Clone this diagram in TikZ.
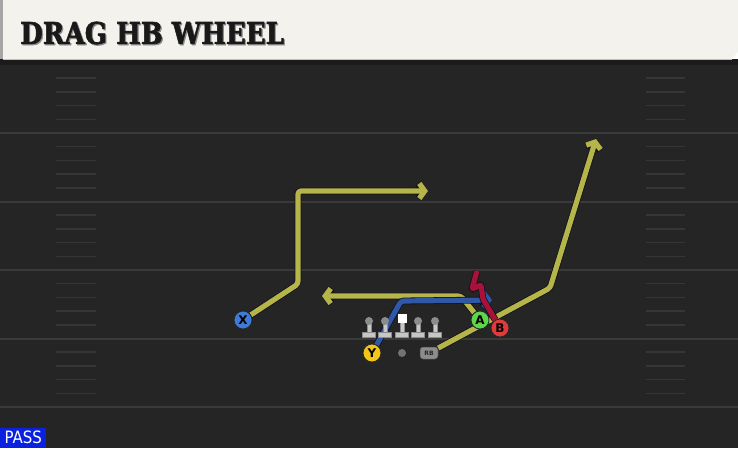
\documentclass[tikz,border=0pt]{standalone}
\usepackage{fontspec}
\setmainfont{DejaVu Sans}
\newfontfamily\titlefont{DejaVu Serif}[BoldFeatures={FakeBold=2}]
\usepackage{xcolor}
\usetikzlibrary{arrows.meta, positioning}

\definecolor{fieldgray}{HTML}{252525}
\definecolor{topband}{HTML}{1B1B1B}
\definecolor{yardline}{HTML}{3A3A3A}
\definecolor{hashline}{HTML}{363636}
\definecolor{headercream}{HTML}{F4F2EC}
\definecolor{routeyellow}{HTML}{B5B54A}
\definecolor{routeblue}{HTML}{2F58A8}
\definecolor{routered}{HTML}{A8123A}
\definecolor{routeedge}{HTML}{12121C}
\definecolor{xblue}{HTML}{3F7BD6}
\definecolor{ygold}{HTML}{F2C518}
\definecolor{agreen}{HTML}{5CD64A}
\definecolor{bred}{HTML}{E03A3A}
\definecolor{passblue}{HTML}{0A22E0}

\pgfdeclarelayer{background}
\pgfdeclarelayer{routes}
\pgfsetlayers{background,routes,main}

\begin{document}
\begin{tikzpicture}[
        x=1pt, y=-1pt,
        player/.style={circle, draw=black!85, line width=0.8pt, minimum size=18pt, inner sep=0pt,
            font=\bfseries\fontsize{12}{12}\selectfont},
        route/.style={line width=5.2pt, draw=routeyellow, line join=round, rounded corners=3pt,
            preaction={draw=routeedge, line width=6.8pt}},
        tip/.style={-{Straight Barb[length=5.5pt, width=15pt]}},
        lineman/.style={fill=black!22, draw=black!45, line width=0.4pt}
        ]
        \useasboundingbox (0,0) rectangle (738,448);

        \begin{pgfonlayer}{background}
        % Field
        \fill[fieldgray] (0,59) rectangle (738,448);
        \fill[topband] (0,59) rectangle (738,65);
        \foreach \y in {133,201.5,270,338.5,407}
            \draw[yardline, line width=2pt] (0,\y) -- (738,\y);

        % Hash marks
        \foreach \t in {64.5,133,201.5,270,338.5}
            \foreach \k in {1,2,3,4} {
                \draw[hashline, line width=1.5pt] (56,\t+13.7*\k) -- (96,\t+13.7*\k);
                \draw[hashline, line width=1.5pt] (646,\t+13.7*\k) -- (685,\t+13.7*\k);
            }

        % Header
        \fill[headercream] (3,0) -- (738,0) -- (738,52) -- (732,59) -- (3,59) -- cycle;
        \fill[black!35] (0,0) rectangle (3,59);
        \draw[black!25, line width=1pt] (3,59) -- (732,59);
        \end{pgfonlayer}

        % Title
        \node[anchor=west, text=black!45, inner sep=0pt] (titleshadow) at (21.2,34.2)
            {\scalebox{0.87}[1]{\titlefont\bfseries\fontsize{30}{30}\selectfont DRAG HB WHEEL}};
        \node[anchor=west, text=black!90, inner sep=0pt] (title) at (20,33)
            {\scalebox{0.87}[1]{\titlefont\bfseries\fontsize{30}{30}\selectfont DRAG HB WHEEL}};

        % Play type
        \node[fill=passblue, text=white, anchor=south west, minimum width=46pt, minimum height=20pt,
            inner sep=0pt] (pass) at (0,448)
            {\scalebox{0.88}[1]{\fontsize{17}{17}\selectfont PASS}};

        % Players
        \node[player, fill=xblue] (X) at (243,320) {X};
        \node[player, fill=ygold] (Y) at (372,353) {Y};
        \node[player, fill=agreen] (A) at (480,320) {A};
        \node[player, fill=bred] (B) at (500,328) {B};
        \node[fill=black!55, circle, minimum size=8pt, inner sep=0pt] (QB) at (402,353) {};
        \node[fill=black!45, draw=black!70, line width=0.5pt, rounded corners=3pt, minimum width=18pt,
            minimum height=12pt, inner sep=0pt, text=black!85, font=\bfseries\fontsize{6}{6}\selectfont]
            (RB) at (429,353) {RB};

        % Offensive line
        \foreach \i/\x in {1/369,2/385,4/418,5/435} {
            \fill[lineman] (\x-2.2,321) rectangle (\x+2.2,334);
            \fill[lineman] (\x-6.5,332.5) rectangle (\x+6.5,337.5);
            \node[circle, fill=black!45, minimum size=8pt, inner sep=0pt] (L\i) at (\x,321) {};
        }
        \fill[lineman] (399.8,322) rectangle (404.2,334);
        \fill[lineman] (395.5,332.5) rectangle (408.5,337.5);
        \node[fill=white, minimum size=9pt, inner sep=0pt] (L3) at (402,318) {};

        % Routes
        \coordinate (xstem) at (298,284);
        \coordinate (xbreak) at (298,191);
        \coordinate (xend) at (428,191);
        \coordinate (dragbend) at (461,296);
        \coordinate (dragend) at (322,296);
        \coordinate (ycut) at (401,301);
        \coordinate (yend) at (492,300);
        \coordinate (wheelbend) at (550,288);
        \coordinate (wheelend) at (596,139);
        \coordinate (blk1) at (483,299);
        \coordinate (blk2) at (481,285);
        \coordinate (blk3) at (472,289);
        \coordinate (blk4) at (477,271);

        \begin{pgfonlayer}{routes}
        \draw[route, tip] (X) -- (xstem) -- (xbreak) -- (xend);
        \draw[route, tip] (A) -- (dragbend) -- (dragend);
        \draw[route, tip] (RB) -- (wheelbend) -- (wheelend);
        \draw[route, tip, draw=routeblue] (Y) -- (ycut) -- (yend);
        \draw[route, draw=routered, rounded corners=1pt] (B) -- (blk1) -- (blk2) -- (blk3) -- (blk4);
        \end{pgfonlayer}

    \end{tikzpicture}
\end{document}
